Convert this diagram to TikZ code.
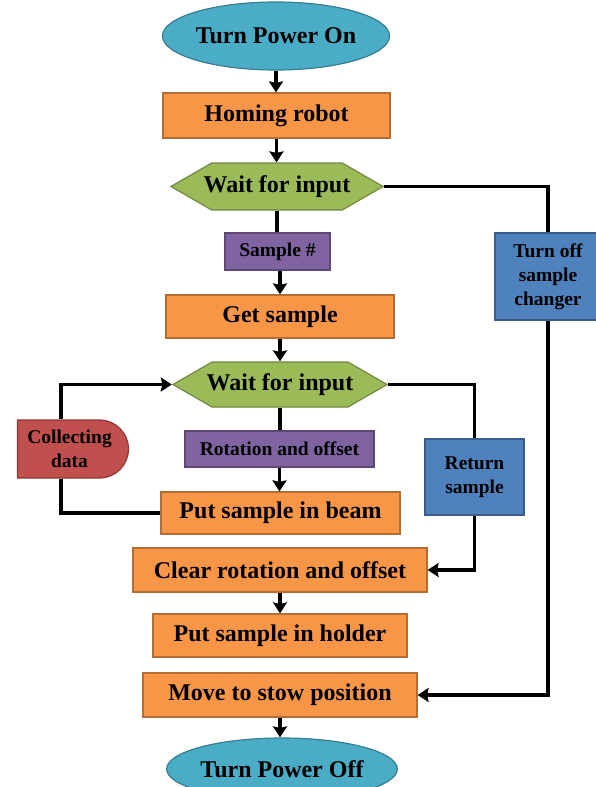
\documentclass[tikz,border=0pt]{standalone}
\usepackage{fontspec}
\setmainfont{Liberation Serif}
\usepackage{tikz}
\usetikzlibrary{shapes, arrows.meta}

\definecolor{aquafill}{RGB}{75,172,198}
\definecolor{aqualine}{RGB}{53,125,145}
\definecolor{orangefill}{RGB}{247,150,70}
\definecolor{orangeline}{RGB}{182,109,49}
\definecolor{greenfill}{RGB}{155,187,89}
\definecolor{greenline}{RGB}{113,137,63}
\definecolor{purplefill}{RGB}{128,100,162}
\definecolor{purpleline}{RGB}{92,71,118}
\definecolor{bluefill}{RGB}{79,129,189}
\definecolor{blueline}{RGB}{56,93,138}
\definecolor{redfill}{RGB}{192,80,77}
\definecolor{redline}{RGB}{140,56,54}

\tikzset{
    bigtext/.style={font=\bfseries\fontsize{24}{28}\selectfont},
    smalltext/.style={font=\bfseries\fontsize{19.5}{24}\selectfont},
    terminal/.style={ellipse, draw=aqualine, fill=aquafill, line width=1.2pt, bigtext},
    process/.style={rectangle, draw=orangeline, fill=orangefill, line width=1.2pt, bigtext},
    waitbox/.style={signal, signal to=west and east, signal pointer angle=60,
        draw=greenline, fill=greenfill, line width=1.2pt, bigtext},
    inputbox/.style={rectangle, draw=purpleline, fill=purplefill, line width=1.2pt, smalltext},
    branchbox/.style={rectangle, draw=blueline, fill=bluefill, line width=1.2pt, smalltext},
    collectbox/.style={rounded rectangle, rounded rectangle left arc=none,
        draw=redline, fill=redfill, line width=1.2pt, smalltext},
    flow/.style={line width=3.5pt},
    flowarrow/.style={flow, -{Stealth[length=11pt,width=14pt,inset=1.5pt]}}
}

\begin{document}
\begin{tikzpicture}[x=1pt, y=-1pt, every node/.append style={inner sep=0pt, align=center}]
    \useasboundingbox (0,0) rectangle (596,787);

    % main column
    \node[terminal, minimum width=227pt, minimum height=68pt] (on) at (276,36) {Turn Power On};
    \node[process, minimum width=227pt, minimum height=45pt] (homing) at (276.5,115.5) {Homing robot};
    \node[waitbox, minimum height=47pt] (wait1) at (277,186.5) {\makebox[130.6pt]{Wait for input}};
    \node[inputbox, minimum width=105pt, minimum height=37pt] (samplenum) at (277.5,251.5) {Sample \#};
    \node[process, minimum width=228pt, minimum height=43pt] (getsample) at (280,316.5) {Get sample};
    \node[waitbox, minimum height=45pt] (wait2) at (280,384.5) {\makebox[136pt]{Wait for input}};
    \node[inputbox, minimum width=189pt, minimum height=36pt] (rotoff) at (279.5,449) {Rotation and offset};
    \node[process, minimum width=239pt, minimum height=42pt] (beam) at (280.5,513) {Put sample in beam};
    \node[process, minimum width=294pt, minimum height=44pt] (clear) at (280,570) {Clear rotation and offset};
    \node[process, minimum width=254pt, minimum height=43pt] (holder) at (280,635.5) {Put sample in holder};
    \node[process, minimum width=274pt, minimum height=44pt] (stow) at (280,695) {Move to stow position};
    \node[terminal, minimum width=230pt, minimum height=62pt] (off) at (282,769) {Turn Power Off};

    % side branches
    \node[collectbox, minimum width=111pt, minimum height=58pt] (collect) at (69.5,449) {Collecting\\data};
    \node[branchbox, minimum width=99pt, minimum height=76pt] (ret) at (474.5,477) {Return\\sample};
    \node[branchbox, minimum width=106pt, minimum height=87pt] (turnoff) at (548,276.5) {Turn off\\sample\\changer};

    \draw[flowarrow] (on.south) -- (on.south |- homing.north);
    \draw[flowarrow] (homing.south) -- (homing.south |- wait1.north);
    \draw[flow] (wait1.south) -- (wait1.south |- samplenum.north);
    \draw[flowarrow] (getsample.north |- samplenum.south) -- (getsample.north);
    \draw[flowarrow] (getsample.south) -- (getsample.south |- wait2.north);
    \draw[flow] (wait2.south) -- (wait2.south |- rotoff.north);
    \draw[flowarrow] (rotoff.south) -- (rotoff.south |- beam.north);
    \draw[flowarrow] (clear.south) -- (clear.south |- holder.north);
    \draw[flowarrow] (stow.south) -- (stow.south |- off.north);

    \draw[flow] (beam.west) -| ([xshift=-8.5pt]collect.south);
    \draw[flowarrow] ([xshift=-8.5pt]collect.north) |- (wait2.west);
    \draw[flow] (wait2.east) -| (ret.north);
    \draw[flowarrow] (ret.south) |- (clear.east);
    \draw[flow] (wait1.east) -| (turnoff.north);
    \draw[flowarrow] (turnoff.south) |- (stow.east);
\end{tikzpicture}
\end{document}
